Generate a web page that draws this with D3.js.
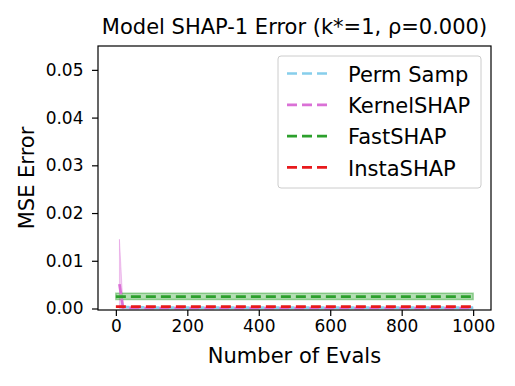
<!DOCTYPE html>
<html>
<head>
<meta charset="utf-8">
<script src="https://cdn.jsdelivr.net/npm/d3@7"></script>
<style>
  body { margin: 0; background: #fff; }
  svg text { font-family: "DejaVu Sans", sans-serif; fill: #000; }
</style>
</head>
<body>
<div class="chart"></div>
<script>
// Data
var evals = [10, 20, 50, 100, 200, 300, 400, 500, 600, 700, 800, 900, 1000];
var permMean = [0.0004, 0.0003, 0.0003, 0.0002, 0.0002, 0.0002, 0.0002, 0.0002, 0.0002, 0.0002, 0.0002, 0.0002, 0.0002];
var kernelMean = [0.0051, 0.0002, 0.0001, 0.0001, 0.0001, 0.0001, 0.0001, 0.0001, 0.0001, 0.0001, 0.0001, 0.0001, 0.0001];
var kernelLow = [0, 0, 0, 0, 0, 0, 0, 0, 0, 0, 0, 0, 0];
var kernelHigh = [0.0145, 0.0006, 0.0002, 0.0002, 0.0002, 0.0002, 0.0002, 0.0002, 0.0002, 0.0002, 0.0002, 0.0002, 0.0002];
var amortEvals = [0, 1000];
var fastMean = [0.0025, 0.0025];
var fastLow = [0.0019, 0.0019];
var fastHigh = [0.0032, 0.0032];
var instaMean = [0.0004, 0.0004];
var xTicks = [0, 200, 400, 600, 800, 1000];
var yTicks = [0, 0.01, 0.02, 0.03, 0.04, 0.05];
var names = ["Perm Samp", "KernelSHAP", "FastSHAP", "InstaSHAP"];
var colors = ["#87ceeb", "#da70d6", "#2ca02c", "#e8191c"];

var margin = {top: 46, right: 24, bottom: 76, left: 98},
    width = 515 - margin.left - margin.right,
    height = 386 - margin.top - margin.bottom;

var svg = d3.select(".chart")
  .append("svg")
  .attr("width", 515)
  .attr("height", 386)

var g = svg.append("g")
  .attr("transform", "translate(" + margin.left + "," + margin.top + ")")

var x = d3.scaleLinear()
  .domain([-50, 1050])
  .range([0, width])

var y = d3.scaleLinear()
  .domain([0, 0.055])
  .range([height - 1.5, 0])

g.append("defs").append("clipPath").attr("id", "clip")
  .append("rect").attr("width", width).attr("height", height)

var plot = g.append("g").attr("clip-path", "url(#clip)")

function band(xs, lo, hi) {
  return d3.area()
    .x(function(d, i) { return x(xs[i]) })
    .y0(function(d, i) { return y(lo[i]) })
    .y1(function(d, i) { return y(hi[i]) })(xs)
}

function line(xs, ys) {
  return d3.line()
    .x(function(d, i) { return x(xs[i]) })
    .y(function(d, i) { return y(ys[i]) })(xs)
}

// shaded bands
plot.append("path")
  .attr("d", band(evals, kernelLow, kernelHigh))
  .attr("fill", colors[1]).attr("fill-opacity", 0.35)
  .attr("stroke", colors[1]).attr("stroke-opacity", 0.35)

plot.append("path")
  .attr("d", band(amortEvals, fastLow, fastHigh))
  .attr("fill", colors[2]).attr("fill-opacity", 0.35)
  .attr("stroke", colors[2]).attr("stroke-opacity", 0.45).attr("stroke-width", 1.5)

var series = [
  {xs: evals, ys: permMean},
  {xs: evals, ys: kernelMean},
  {xs: amortEvals, ys: fastMean},
  {xs: amortEvals, ys: instaMean}
]

series.forEach(function(s, i) {
  plot.append("path")
    .attr("d", line(s.xs, s.ys))
    .attr("fill", "none")
    .attr("stroke", colors[i])
    .attr("stroke-width", 2.7)
    .attr("stroke-dasharray", "10,5")
})

// axes
g.append("g")
  .attr("transform", "translate(0," + height + ")")
  .call(d3.axisBottom(x).tickValues(xTicks).tickFormat(d3.format("d")).tickSize(6).tickPadding(4))

g.append("g")
  .call(d3.axisLeft(y).tickValues(yTicks).tickFormat(d3.format(".2f")).tickSize(6).tickPadding(8.5))

g.selectAll(".tick text").style("font-size", "17px").style("font-family", "DejaVu Sans")
g.selectAll(".tick line").attr("stroke-width", 1.2)
g.selectAll(".domain").remove()

g.append("rect")
  .attr("width", width).attr("height", height)
  .attr("fill", "none").attr("stroke", "#000").attr("stroke-width", 1.2)

// titles
svg.append("text")
  .attr("x", margin.left + width / 2).attr("y", 34)
  .attr("text-anchor", "middle").style("font-size", "21px")
  .text("Model SHAP-1 Error (k*=1, \u03c1=0.000)")

svg.append("text")
  .attr("x", margin.left + width / 2).attr("y", 363)
  .attr("text-anchor", "middle").style("font-size", "21px")
  .text("Number of Evals")

svg.append("text")
  .attr("transform", "translate(34," + (margin.top + height / 2) + ") rotate(-90)")
  .attr("text-anchor", "middle").style("font-size", "21px")
  .text("MSE Error")

// legend
var legend = g.append("g").attr("transform", "translate(180,10)")
legend.append("rect")
  .attr("width", 203).attr("height", 132).attr("rx", 3)
  .attr("fill", "#fff").attr("fill-opacity", 0.8)
  .attr("stroke", "#ccc").attr("stroke-width", 1)

names.forEach(function(n, i) {
  var row = legend.append("g").attr("transform", "translate(0," + (17.5 + i * 31.3) + ")")
  row.append("line")
    .attr("x1", 9).attr("x2", 52).attr("y1", 0).attr("y2", 0)
    .attr("stroke", colors[i]).attr("stroke-width", 2.7)
    .attr("stroke-dasharray", "10,5")
  row.append("text")
    .attr("x", 70).attr("y", 8.3)
    .style("font-size", "21px")
    .text(n)
})
</script>
</body>
</html>
